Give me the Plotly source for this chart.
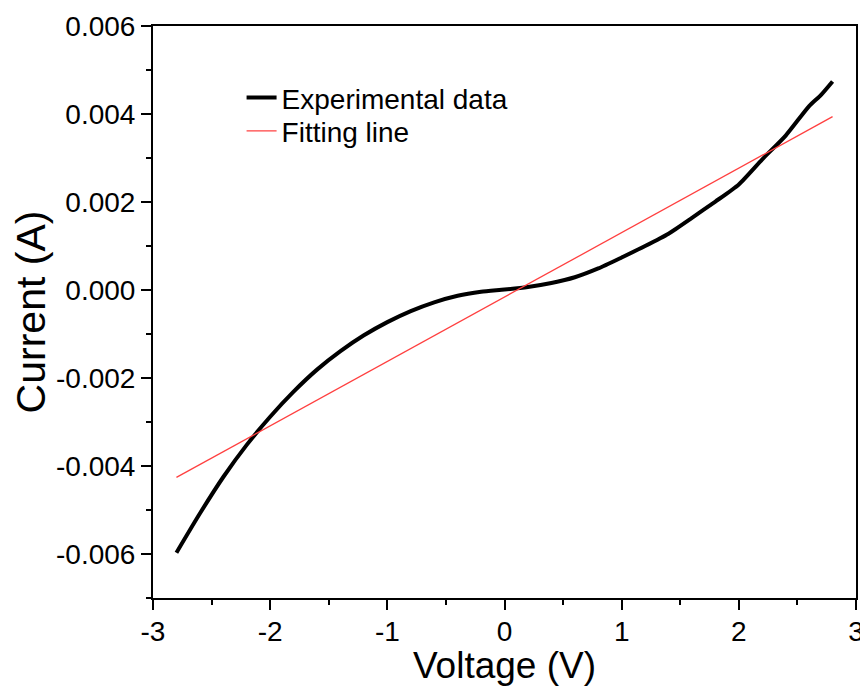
import plotly.graph_objects as go

voltage = [-2.8, -2.6, -2.4, -2.2, -2.0, -1.8, -1.6, -1.4, -1.2, -1.0, -0.8, -0.6, -0.4, -0.2,
           0.0, 0.2, 0.4, 0.6, 0.8, 1.0, 1.2, 1.4, 1.6, 1.8, 2.0, 2.2, 2.4, 2.6, 2.7, 2.8]
current = [-0.00597, -0.00508, -0.00425, -0.00352, -0.00288, -0.00231, -0.00181, -0.00139,
           -0.00103, -0.00073, -0.00048, -0.00028, -0.00013, -0.00004,
           0.00001, 0.00007, 0.00016, 0.00029, 0.00049, 0.00074, 0.00100, 0.00128,
           0.00164, 0.00201, 0.00240, 0.00297, 0.00351, 0.00418, 0.00443, 0.00474]

# Fitting line end points
fit_voltage = [-2.8, 2.8]
fit_current = [-0.00426, 0.00394]

x_tickvals = [-3, -2, -1, 0, 1, 2, 3]
x_ticktext = ["-3", "-2", "-1", "0", "1", "2", "3"]
y_tickvals = [-0.006, -0.004, -0.002, 0.0, 0.002, 0.004, 0.006]
y_ticktext = ["-0.006", "-0.004", "-0.002", "0.000", "0.002", "0.004", "0.006"]

FONT = "Arial, 'Liberation Sans', sans-serif"

fig = go.Figure()
fig.add_trace(go.Scatter(x=voltage, y=current, mode="lines", name="Experimental data",
                         legend="legend", showlegend=True,
                         line=dict(color="black", width=4, shape="spline", smoothing=0.6)))
fig.add_trace(go.Scatter(x=fit_voltage, y=fit_current, mode="lines", name="Fitting line",
                         legend="legend2", showlegend=True,
                         line=dict(color="#ff4040", width=1.3)))

axis_common = dict(showgrid=False, zeroline=False, showline=True, linecolor="black",
                   linewidth=2, mirror=True, ticks="outside", ticklen=10, tickwidth=2,
                   tickcolor="black", automargin=False,
                   tickfont=dict(size=28, color="black", family=FONT))

fig.update_xaxes(range=[-3, 3], tickvals=x_tickvals, ticktext=x_ticktext,
                 ticklabelstandoff=-3,
                 minor=dict(ticks="outside", ticklen=5, tickwidth=2, tickcolor="black", dtick=0.5, tick0=0),
                 title=dict(text="Voltage (V)", font=dict(size=37, color="black", family=FONT)),
                 **axis_common)
fig.update_yaxes(range=[-0.007, 0.006], tickvals=y_tickvals, ticktext=y_ticktext,
                 minor=dict(ticks="outside", ticklen=5, tickwidth=2, tickcolor="black", dtick=0.001, tick0=0),
                 title=dict(text="Current (A)", font=dict(size=41, color="black", family=FONT)),
                 **axis_common)

legend_common = dict(xanchor="left", yanchor="top", visible=True,
                     font=dict(size=28, color="black", family=FONT),
                     bgcolor="rgba(0,0,0,0)", borderwidth=0)

# page body has an 8px margin, so the figure is shrunk/shifted accordingly
fig.update_layout(
    width=860, height=678,
    margin=dict(l=145, r=12, t=18, b=88),
    showlegend=True,
    paper_bgcolor="white", plot_bgcolor="white",
    font=dict(family=FONT, color="black"),
    legend=dict(x=0.126, y=0.918, **legend_common),
    legend2=dict(x=0.126, y=0.860, **legend_common),
)

fig.write_html("out.html")
